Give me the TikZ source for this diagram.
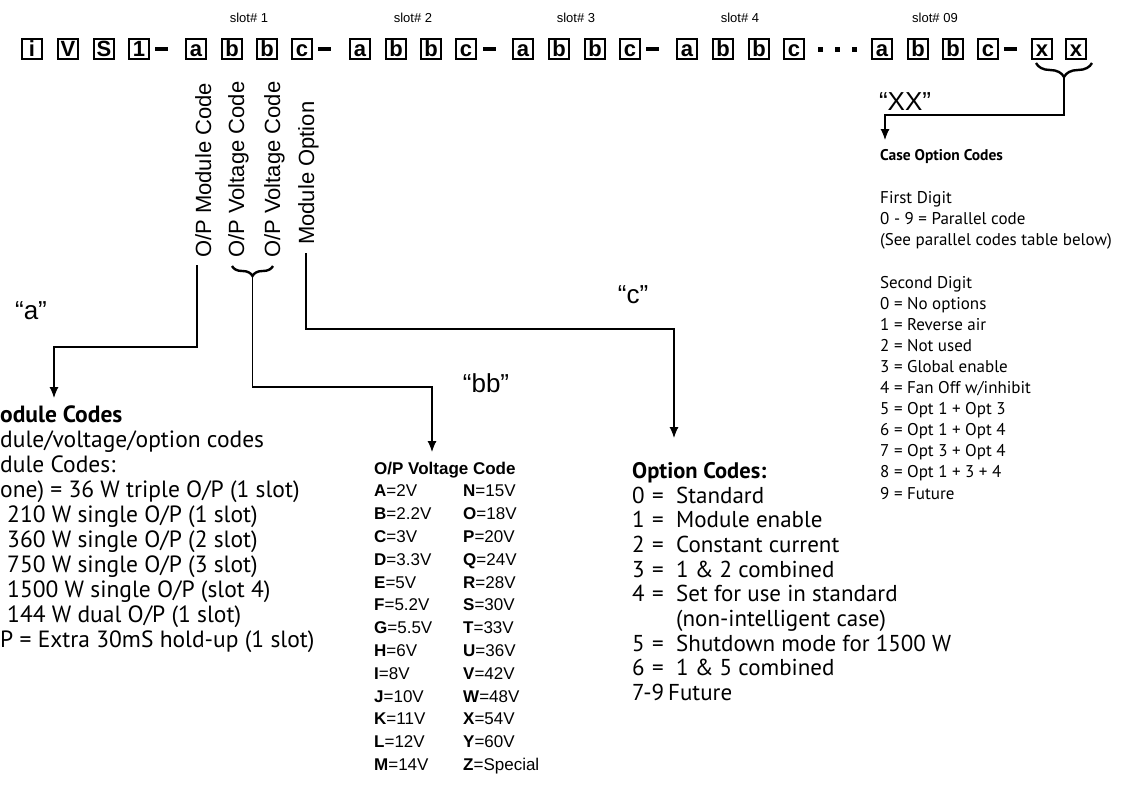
\documentclass[tikz,border=0pt]{standalone}
\usepackage{fontspec}
\setmainfont{PT Sans}
\newfontfamily\arial{Liberation Sans}
\usetikzlibrary{arrows.meta,decorations.pathreplacing}
\begin{document}
\begin{tikzpicture}[x=1pt,y=-1pt,
 cell/.style={draw, line width=1.4pt, minimum width=20pt, minimum height=20pt, inner sep=0pt, text height=15.5pt, text depth=0pt, font=\arial\bfseries\fontsize{22}{22}\selectfont},
 bar/.style={fill=black, inner sep=0pt, minimum width=13pt, minimum height=4.5pt},
 dotbox/.style={fill=black, inner sep=0pt, minimum size=5pt},
 slotlbl/.style={font=\arial\fontsize{13}{13}\selectfont, anchor=base, inner sep=0pt},
 vlbl/.style={font=\arial\fontsize{22}{22}\selectfont, rotate=90, anchor=base west, inner sep=0pt},
 quote/.style={font=\arial\fontsize{26}{26}\selectfont, inner sep=0pt},
 arr/.style={line width=1.1pt, -{Latex[length=11pt,width=9pt]}},
 brc/.style={decorate, decoration={brace, amplitude=10pt}, line width=2.4pt},
 blk/.style={anchor=base west, inner sep=0pt, align=left},
]
\useasboundingbox (0,0) rectangle (1135,787);
\fill[white] (0,0) rectangle (1135,787);

% ---- code boxes ----
\foreach \x/\t/\n in {22/i/p1, 58/V/p2, 94/S/p3, 129/1/p4,
  186/a/s1a, 222/b/s1b, 257/b/s1c, 292/c/s1d,
  350/a/s2a, 386/b/s2b, 421/b/s2c, 456/c/s2d,
  513/a/s3a, 549/b/s3b, 585/b/s3c, 620/c/s3d,
  677/a/s4a, 713/b/s4b, 749/b/s4c, 784/c/s4d,
  872/a/s9a, 908/b/s9b, 943/b/s9c, 978/c/s9d,
  1032/x/x1, 1066/x/x2}
  \node[cell] (\n) at (\x+10,49) {\t};

\foreach \x/\n in {161.5/d1, 324.5/d2, 489.5/d3, 652.5/d4, 1010.5/d5}
  \node[bar] (\n) at (\x,49) {};
\foreach \x/\n in {820/e1, 837/e2, 854/e3}
  \node[dotbox] (\n) at (\x,49) {};

% ---- slot labels ----
\node[slotlbl] (sl1) at (249,23) {slot\# 1};
\node[slotlbl] (sl2) at (413,23) {slot\# 2};
\node[slotlbl] (sl3) at (576,23) {slot\# 3};
\node[slotlbl] (sl4) at (740,23) {slot\# 4};
\node[slotlbl] (sl9) at (935,23) {slot\# 09};

% ---- vertical labels ----
\node[vlbl] (vmod) at (211,258) {O/P Module Code};
\node[vlbl] (vv1) at (244,258) {O/P Voltage Code};
\node[vlbl] (vv2) at (280,258) {O/P Voltage Code};
\node[vlbl] (vopt) at (314,245) {Module Option};

% ---- quote labels ----
\node[quote] (qa) at (31,311) {“a”};
\node[quote] (qbb) at (486,383) {“bb”};
\node[quote] (qc) at (633,295) {“c”};
\node[quote] (qxx) at (905,102) {“XX”};

% ---- connectors ----
\coordinate (mA) at (197,265);
\coordinate (mC) at (54,347);
\coordinate (mT) at (54,398);
\draw[arr] (mA) |- (mC) -- (mT);

\coordinate (bR) at (273,266);
\coordinate (bL) at (232,266);
\draw[brc] (bR) -- (bL);
\coordinate (vA) at (252.5,277);
\coordinate (vC) at (432,387);
\coordinate (vT) at (432,452);
\draw[arr] (vA) |- (vC) -- (vT);

\coordinate (oA) at (306,253);
\coordinate (oC) at (674,329);
\coordinate (oT) at (674,438);
\draw[arr] (oA) |- (oC) -- (oT);

\coordinate (xR) at (1092,63);
\coordinate (xL) at (1036,63);
\draw[brc, decoration={amplitude=14pt}] (xR) -- (xL);
\coordinate (cA) at (1064,78);
\coordinate (cC) at (885,115);
\coordinate (cT) at (885,140);
\draw[arr] (cA) |- (cC) -- (cT);

% ---- module codes block ----
\node[blk, font=\fontsize{23.5}{25}\selectfont] (modblk) at (0,422) {%
\begin{tabular}[t]{@{}l@{}}
\textbf{odule Codes}\\
dule/voltage/option codes\\
dule Codes:\\
one) = 36 W triple O/P (1 slot)\\
\hspace*{7pt}210 W single O/P (1 slot)\\
\hspace*{7pt}360 W single O/P (2 slot)\\
\hspace*{7pt}750 W single O/P (3 slot)\\
\hspace*{7pt}1500 W single O/P (slot 4)\\
\hspace*{7pt}144 W dual O/P (1 slot)\\
P = Extra 30mS hold-up (1 slot)
\end{tabular}};

% ---- voltage table ----
\node[blk, font=\arial\fontsize{17}{22.8}\selectfont] (volt) at (374,474) {%
\begin{tabular}[t]{@{}p{89pt}@{}l@{}}
\multicolumn{2}{@{}l@{}}{\textbf{O/P Voltage Code}}\\
\textbf{A}=2V & \textbf{N}=15V\\
\textbf{B}=2.2V & \textbf{O}=18V\\
\textbf{C}=3V & \textbf{P}=20V\\
\textbf{D}=3.3V & \textbf{Q}=24V\\
\textbf{E}=5V & \textbf{R}=28V\\
\textbf{F}=5.2V & \textbf{S}=30V\\
\textbf{G}=5.5V & \textbf{T}=33V\\
\textbf{H}=6V & \textbf{U}=36V\\
\textbf{I}=8V & \textbf{V}=42V\\
\textbf{J}=10V & \textbf{W}=48V\\
\textbf{K}=11V & \textbf{X}=54V\\
\textbf{L}=12V & \textbf{Y}=60V\\
\textbf{M}=14V & \textbf{Z}=Special
\end{tabular}};

% ---- option codes ----
\node[blk, font=\bfseries\fontsize{22.5}{24.7}\selectfont] (opttitle) at (632,478) {Option Codes:};
\node[blk, font=\fontsize{23}{24.7}\selectfont] (optlist) at (632,503) {%
\begin{tabular}[t]{@{}p{20pt}@{}p{24pt}@{}l@{}}
0&=&Standard\\
1&=&Module enable\\
2&=&Constant current\\
3&=&1 \& 2 combined\\
4&=&Set for use in standard\\
&&(non-intelligent case)\\
5&=&Shutdown mode for 1500 W\\
6&=&1 \& 5 combined\\
\multicolumn{3}{@{}l@{}}{\makebox[36pt][l]{7-9}Future}
\end{tabular}};

% ---- case option codes ----
\node[blk, font=\bfseries\fontsize{15.5}{21}\selectfont] (casetitle) at (880,160) {Case Option Codes};
\node[blk, font=\fontsize{17}{21.1}\selectfont] (first) at (880,203) {%
\begin{tabular}[t]{@{}l@{}}
First Digit\\
0 - 9 = Parallel code\\
(See parallel codes table below)
\end{tabular}};
\node[blk, font=\fontsize{17}{21.1}\selectfont] (second) at (880,288) {%
\begin{tabular}[t]{@{}l@{}}
Second Digit\\
0 = No options\\
1 = Reverse air\\
2 = Not used\\
3 = Global enable\\
4 = Fan Off w/inhibit\\
5 = Opt 1 + Opt 3\\
6 = Opt 1 + Opt 4\\
7 = Opt 3 + Opt 4\\
8 = Opt 1 + 3 + 4\\
9 = Future
\end{tabular}};
\end{tikzpicture}
\end{document}
